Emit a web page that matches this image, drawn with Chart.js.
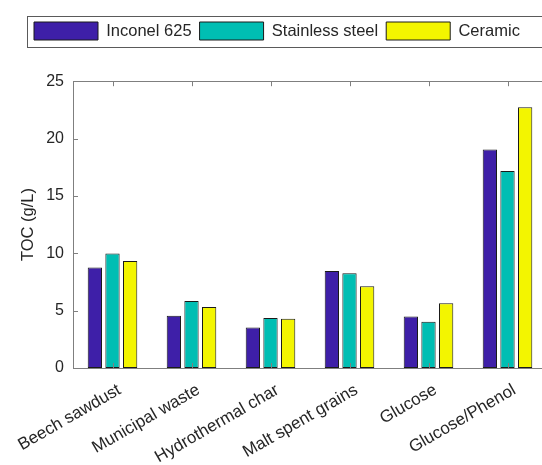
<!DOCTYPE html>
<html>
<head>
<meta charset="utf-8">
<script src="https://cdn.jsdelivr.net/npm/chart.js@4.4.0/dist/chart.umd.min.js"></script>
<style>
  html, body { margin: 0; padding: 0; background: #fff; overflow: hidden; }
  #wrap { width: 560px; height: 465px; position: relative; }
</style>
</head>
<body>
<div id="wrap"><canvas id="myChart"></canvas></div>
<script>
const categories = ["Beech sawdust", "Municipal waste", "Hydrothermal char", "Malt spent grains", "Glucose", "Glucose/Phenol"];
const inconel = [8.75, 4.56, 3.54, 8.46, 4.48, 19.05];
const stainless = [9.97, 5.85, 4.36, 8.26, 4.04, 17.18];
const ceramic = [9.33, 5.32, 4.3, 7.12, 5.64, 22.74];
const yTicks = [0, 5, 10, 15, 20, 25];

const textColor = "#262626";
const axisColor = "#7f7f7f";
const fontFamily = "'Liberation Sans', Arial, sans-serif";

// axis box + inward ticks, drawn on top of the bars like matlab does
const axesBox = {
  id: "axesBox",
  afterDatasetsDraw(chart) {
    const ctx = chart.ctx;
    const a = chart.chartArea;
    const x = chart.scales.x;
    const y = chart.scales.y;
    ctx.save();
    ctx.strokeStyle = axisColor;
    ctx.lineWidth = 1;
    ctx.strokeRect(Math.round(a.left) + 0.5, Math.round(a.top) + 0.5, Math.round(a.right - a.left), Math.round(a.bottom - a.top));
    ctx.beginPath();
    y.ticks.forEach((t, i) => {
      const py = Math.round(y.getPixelForTick(i)) + 0.5;
      ctx.moveTo(a.left, py); ctx.lineTo(a.left + 5, py);
      ctx.moveTo(a.right, py); ctx.lineTo(a.right - 5, py);
    });
    x.ticks.forEach((t, i) => {
      const px = Math.round(x.getPixelForTick(i)) + 0.5;
      ctx.moveTo(px, a.bottom); ctx.lineTo(px, a.bottom - 5);
      ctx.moveTo(px, a.top); ctx.lineTo(px, a.top + 5);
    });
    ctx.stroke();
    ctx.restore();
  },
  afterDraw(chart) {
    const l = chart.legend;
    const ctx = chart.ctx;
    ctx.save();
    ctx.strokeStyle = "#5a5a5a";
    ctx.lineWidth = 1;
    ctx.strokeRect(Math.round(l.left) + 1.5, Math.round(l.top) + 2.5, chart.width, 31);
    ctx.restore();
  }
};

const chart = new Chart(document.getElementById("myChart").getContext("2d"), {
  type: "bar",
  data: {
    labels: categories,
    datasets: [
      { label: "Inconel 625", data: inconel, backgroundColor: "#3E1FA8" },
      { label: "Stainless steel", data: stainless, backgroundColor: "#00BEB3" },
      { label: "Ceramic", data: ceramic, backgroundColor: "#F3F500" }
    ].map(d => Object.assign(d, {
      borderColor: "#1a1a1a",
      borderWidth: 1,
      borderSkipped: false,
      categoryPercentage: 0.67,
      barPercentage: 0.81
    }))
  },
  options: {
    responsive: true,
    maintainAspectRatio: false,
    animation: false,
    layout: { padding: { left: 26, right: 13, top: 14, bottom: 0 } },
    plugins: {
      legend: {
        position: "top",
        align: "start",
        labels: {
          boxWidth: 64,
          boxHeight: 18,
          padding: 8,
          color: textColor,
          font: { family: fontFamily, size: 16.5 }
        }
      },
      // empty title used only as a spacer under the legend
      title: {
        display: true,
        text: "",
        weight: 500,
        font: { size: 1 },
        padding: { top: 30, bottom: 0 }
      },
      tooltip: { enabled: false }
    },
    scales: {
      x: {
        grid: { display: false, drawTicks: false },
        border: { display: false },
        ticks: {
          color: textColor,
          font: { family: fontFamily, size: 17 },
          minRotation: 30,
          maxRotation: 30,
          padding: 12,
          labelOffset: 7,
          autoSkip: false
        },
        afterFit: s => {
          s.height = 97;
          // rotated labels may hang out to the left, don't push the plot for it
          s.paddingLeft = 0;
          s.paddingRight = 0;
        }
      },
      y: {
        min: 0,
        max: 25,
        grid: { display: false, drawTicks: false },
        border: { display: false },
        afterBuildTicks: s => { s.ticks = yTicks.map(v => ({ value: v })); },
        ticks: {
          color: textColor,
          font: { family: fontFamily, size: 16 },
          padding: 9
        },
        title: {
          display: true,
          text: "TOC (g/L)",
          color: textColor,
          font: { family: fontFamily, size: 16.5 },
          padding: { top: -7, bottom: 0 }
        },
        afterFit: s => { s.width = 47; }
      }
    }
  },
  plugins: [axesBox]
});
</script>
</body>
</html>
